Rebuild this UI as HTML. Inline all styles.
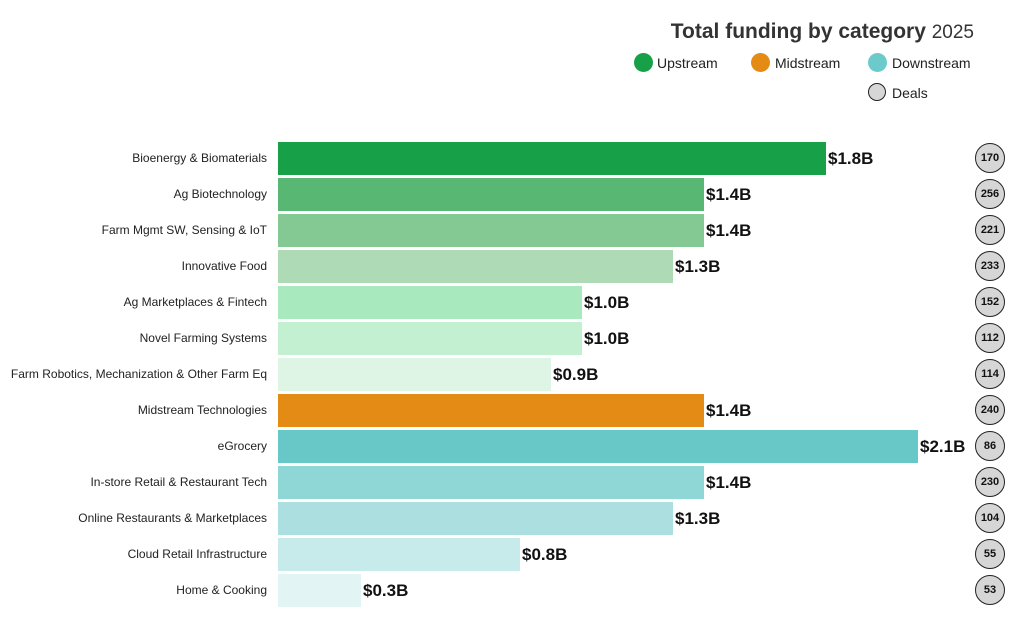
<!DOCTYPE html>
<html><head><style>
body{margin:0;width:1023px;height:632px;background:#fff;font-family:"Liberation Sans",sans-serif;position:relative;overflow:hidden}
.t{position:absolute;right:49px;top:20px;font-size:21px;font-weight:bold;color:#333}
.t span{font-weight:normal;font-size:19px}
.lg{position:absolute;font-size:14px;color:#222}
.dot{position:absolute;width:19px;height:19px;border-radius:50%}
.lab{position:absolute;right:756px;font-size:12px;color:#222;white-space:nowrap}
.bar{position:absolute;left:278px;height:33px}
.v{position:absolute;font-size:17px;font-weight:bold;color:#111}
.c{position:absolute;left:975px;width:28px;height:28px;border:1.5px solid #222;border-radius:50%;background:#d6d6d6;font-size:11px;font-weight:bold;text-align:center;line-height:28px;color:#111}
</style></head><body>
<div class="t">Total funding by category <span>2025</span></div>
<div class="dot" style="left:634px;top:53px;background:#18a049"></div><div class="lg" style="left:657px;top:55px">Upstream</div>
<div class="dot" style="left:751px;top:53px;background:#e38b15"></div><div class="lg" style="left:775px;top:55px">Midstream</div>
<div class="dot" style="left:868px;top:53px;background:#6ccaca"></div><div class="lg" style="left:892px;top:55px">Downstream</div>
<div class="dot" style="left:868px;top:83px;width:16px;height:16px;border:1.5px solid #222;background:#d6d6d6"></div><div class="lg" style="left:892px;top:85px">Deals</div>
<div id="r"></div>
<script>
var d=[["Bioenergy & Biomaterials",826,"$1.8B",170,"#18a049"],["Ag Biotechnology",704,"$1.4B",256,"#58b873"],["Farm Mgmt SW, Sensing & IoT",704,"$1.4B",221,"#84c993"],["Innovative Food",673,"$1.3B",233,"#aedbb5"],["Ag Marketplaces & Fintech",582,"$1.0B",152,"#a8e9bd"],["Novel Farming Systems",582,"$1.0B",112,"#c3f0d1"],["Farm Robotics, Mechanization & Other Farm Eq",551,"$0.9B",114,"#def4e5"],["Midstream Technologies",704,"$1.4B",240,"#e38b15"],["eGrocery",918,"$2.1B",86,"#68c8c8"],["In-store Retail & Restaurant Tech",704,"$1.4B",230,"#8fd6d6"],["Online Restaurants & Marketplaces",673,"$1.3B",104,"#acdfe0"],["Cloud Retail Infrastructure",520,"$0.8B",55,"#c7ebea"],["Home & Cooking",361,"$0.3B",53,"#e2f4f4"]];
var h="";d.forEach(function(e,i){var y=142+36*i;
h+='<div class="lab" style="top:'+(y+9)+'px">'+e[0].replace(/&/g,"&amp;")+'</div>';
h+='<div class="bar" style="top:'+y+'px;width:'+(e[1]-278)+'px;background:'+e[4]+'"></div>';
h+='<div class="v" style="left:'+(e[1]+2)+'px;top:'+(y+7)+'px">'+e[2]+'</div>';
h+='<div class="c" style="top:'+(y+1)+'px">'+e[3]+'</div>';});
document.getElementById("r").innerHTML=h;
</script>
</body></html>
